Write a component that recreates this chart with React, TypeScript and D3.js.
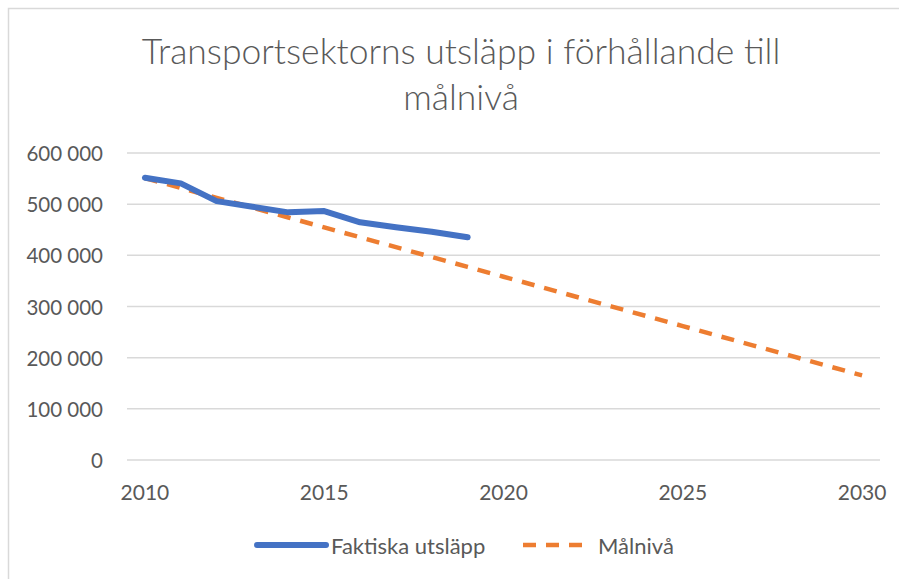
import React from 'react';
import * as d3 from 'd3';

// Faktiska utsläpp (ton CO2-ekv) 2010–2019
const actualYears = [2010, 2011, 2012, 2013, 2014, 2015, 2016, 2017, 2018, 2019];
const actualValues = [551600, 540700, 506000, 495000, 484000, 486600, 464500, 454700, 446200, 435200];

// Målnivå 2010–2030
const targetYears = [
  2010, 2011, 2012, 2013, 2014, 2015, 2016, 2017, 2018, 2019, 2020,
  2021, 2022, 2023, 2024, 2025, 2026, 2027, 2028, 2029, 2030,
];
const targetValues = [
  551000, 531700, 512400, 493100, 473900, 454600, 435300, 416000, 396700, 377400, 358200,
  338900, 319600, 300300, 281000, 261700, 242400, 223200, 203900, 184600, 165300,
];

const xLabels = ['2010', '2015', '2020', '2025', '2030'];
const yTicks = [0, 100000, 200000, 300000, 400000, 500000, 600000];

const titleLines = ['Transportsektorns utsläpp i förhållande till', 'målnivå'];
const seriesNames = ['Faktiska utsläpp', 'Målnivå'];

const W = 899;
const H = 579;
const FONT = 'Lato, "Open Sans", sans-serif';
const TEXT = '#595959';
const BLUE = '#4472C4';
const ORANGE = '#ED7D31';

const fmt = (v: number) => d3.format(',')(v).replace(/,/g, ' ');

export default function App() {
  const x = d3
    .scaleBand<number>()
    .domain(targetYears)
    .range([127, 880])
    .padding(0);
  const cx = (yr: number) => (x(yr) ?? 0) + x.bandwidth() / 2;

  const y = d3.scaleLinear().domain([0, 600000]).range([460, 153]);

  const lineActual = d3
    .line<number>()
    .x((_, i) => cx(actualYears[i]))
    .y((d) => y(d));
  const lineTarget = d3
    .line<number>()
    .x((_, i) => cx(targetYears[i]))
    .y((d) => y(d));

  return (
    <svg
      width={W}
      height={H}
      style={{ position: 'absolute', left: 0, top: 0, background: '#fff' }}
      fontFamily={FONT}
    >
      {/* chart frame */}
      <rect x={8.5} y={8.5} width={W + 20} height={H + 20} fill="#fff" stroke="#d9d9d9" strokeWidth={1.5} />

      {/* title */}
      <text textAnchor="middle" fill={TEXT} fontSize={35.5} fontWeight={300}>
        <tspan x={461} y={64}>{titleLines[0]}</tspan>
        <tspan x={461} y={110}>{titleLines[1]}</tspan>
      </text>

      {/* gridlines + y labels */}
      {yTicks.map((t) => (
        <g key={t}>
          <line x1={127} x2={880} y1={y(t)} y2={y(t)} stroke="#d9d9d9" strokeWidth={1.5} />
          <text
            x={103}
            y={y(t)}
            textAnchor="end"
            dominantBaseline="central"
            fill={TEXT}
            fontSize={20.5}
          >
            {fmt(t)}
          </text>
        </g>
      ))}

      {/* x labels */}
      {xLabels.map((l) => (
        <text
          key={l}
          x={cx(+l)}
          y={491}
          textAnchor="middle"
          dominantBaseline="central"
          fill={TEXT}
          fontSize={21}
        >
          {l}
        </text>
      ))}

      {/* series */}
      <path
        d={lineTarget(targetValues) ?? ''}
        fill="none"
        stroke={ORANGE}
        strokeWidth={4.5}
        strokeDasharray="13 10"
      />
      <path
        d={lineActual(actualValues) ?? ''}
        fill="none"
        stroke={BLUE}
        strokeWidth={6}
        strokeLinecap="round"
        strokeLinejoin="round"
      />

      {/* legend */}
      <line x1={257} x2={326} y1={545} y2={545} stroke={BLUE} strokeWidth={6} strokeLinecap="round" />
      <text x={331} y={545} dominantBaseline="central" fill={TEXT} fontSize={22}>
        {seriesNames[0]}
      </text>
      <line
        x1={523}
        x2={583}
        y1={545}
        y2={545}
        stroke={ORANGE}
        strokeWidth={4.5}
        strokeDasharray="13 10"
      />
      <text x={598} y={545} dominantBaseline="central" fill={TEXT} fontSize={22}>
        {seriesNames[1]}
      </text>
    </svg>
  );
}
